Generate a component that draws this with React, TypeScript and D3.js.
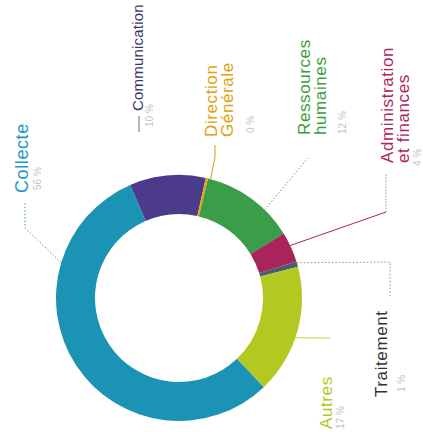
import React from 'react';
import * as d3 from 'd3';

// Chart data (order = drawing order, clockwise from the Communication slice)
const categories = ['Communication', 'Direction Générale', 'Ressources humaines', 'Administration et finances', 'Traitement', 'Autres', 'Collecte'];
const values = [10, 0.3, 12.4, 4, 0.7, 17, 55.6];
const percentLabels = ['10 %', '0 %', '12 %', '4 %', '1 %', '17 %', '56 %'];
const nameLines = [['Communication'], ['Direction', 'Générale'], ['Ressources', 'humaines'], ['Administration', 'et finances'], ['Traitement'], ['Autres'], ['Collecte']];

const sliceColors = ['#4c3b8b', '#f0a400', '#3a9d48', '#a8245a', '#4d5b6b', '#b3c922', '#1b93b5'];
const textColors = ['#3c3566', '#e0a00f', '#3a9d3c', '#b0245a', '#333333', '#b3c718', '#1f98c8'];

type Seg = { pts: number[][]; dash: string; color: string; fromArc?: boolean };

// Label layout (rotated text: x = baseline, y = start of text)
const labelLayout: { x: number; y: number; size: number; ls: number; px: number; py: number; segs: Seg[] }[] = [
  { x: 143, y: 111, size: 15, ls: 0.2, px: 153, py: 127, segs: [{ pts: [[139, 132], [139, 116]], dash: 'none', color: '#6a6a80' }] },
  { x: 217, y: 137, size: 17, ls: 0.6, px: 254, py: 133, segs: [{ pts: [[215, 157], [215, 145]], dash: 'none', color: '#c9a21a', fromArc: true }] },
  { x: 310, y: 135, size: 17, ls: 0.6, px: 346, py: 134, segs: [{ pts: [[308, 158]], dash: '1.5 2', color: '#6a9a80', fromArc: true }] },
  {
    x: 393, y: 163, size: 17, ls: 0.6, px: 421, py: 166, segs: [
      { pts: [[386, 212]], dash: 'none', color: '#a8245a', fromArc: true },
      { pts: [[386, 212], [386, 174]], dash: '1.5 1.5', color: '#9a9a9a' },
    ]
  },
  { x: 387, y: 397, size: 17, ls: 0.6, px: 405, py: 392, segs: [{ pts: [[390, 262], [390, 298]], dash: '1.5 2', color: '#8a9098', fromArc: true }] },
  { x: 332, y: 429, size: 17, ls: 0.6, px: 344, py: 429, segs: [{ pts: [[330, 338]], dash: 'none', color: '#c2d43a', fromArc: true }] },
  { x: 28, y: 193, size: 18, ls: 0.6, px: 41, py: 190, segs: [{ pts: [[25, 228], [25, 203]], dash: '1.5 2', color: '#3a9ac0', fromArc: true }] },
];

const leaderAngles = [-0.05, 0.26, 0.77, 1.13, 1.28, 1.90, -1.28];

const W = 423, H = 432;
const cx = 179, cy = 298, rOuter = 123, rInner = 84;

export default function App() {
  const start = -23.4 * Math.PI / 180;
  const pie = d3.pie<number>().sort(null).value(d => d).startAngle(start).endAngle(start + 2 * Math.PI);
  const arcs = pie(values);
  const arc = d3.arc<d3.PieArcDatum<number>>().innerRadius(rInner).outerRadius(rOuter);

  return (
    <div style={{ position: 'fixed', left: 0, top: 0, width: W, height: H, background: '#fff' }}>
      <svg width={W} height={H} style={{ display: 'block', fontFamily: 'Liberation Sans, Arial, sans-serif' }}>
        <rect width={W} height={H} fill="#fff" />
        <g transform={`translate(${cx},${cy})`}>
          {arcs.map((a, i) => (
            <path key={categories[i]} d={arc(a) ?? ''} fill={sliceColors[i]} />
          ))}
        </g>
        {arcs.map((a, i) => {
          const l = labelLayout[i];
          const ang = leaderAngles[i];
          const sx = cx + Math.sin(ang) * rOuter;
          const sy = cy - Math.cos(ang) * rOuter;
          return (
            <g key={'lbl' + i}>
              {l.segs.map((s, k) => {
                const pts = s.fromArc ? [[sx, sy], ...s.pts] : s.pts;
                return (
                  <polyline
                    key={k}
                    points={pts.map(p => p.join(',')).join(' ')}
                    fill="none"
                    stroke={s.color}
                    strokeWidth={1}
                    strokeDasharray={s.dash}
                  />
                );
              })}
              <text transform={`translate(${l.x},${l.y}) rotate(-90)`} fill={textColors[i]} fontSize={l.size} letterSpacing={l.ls}>
                {nameLines[i].map((s, j) => (
                  <tspan key={j} x={0} dy={j === 0 ? 0 : 16}>{s}</tspan>
                ))}
              </text>
              <text transform={`translate(${l.px},${l.py}) rotate(-90)`} fill="#c4c4c4" fontSize={10}>
                {percentLabels[i]}
              </text>
            </g>
          );
        })}
      </svg>
    </div>
  );
}
